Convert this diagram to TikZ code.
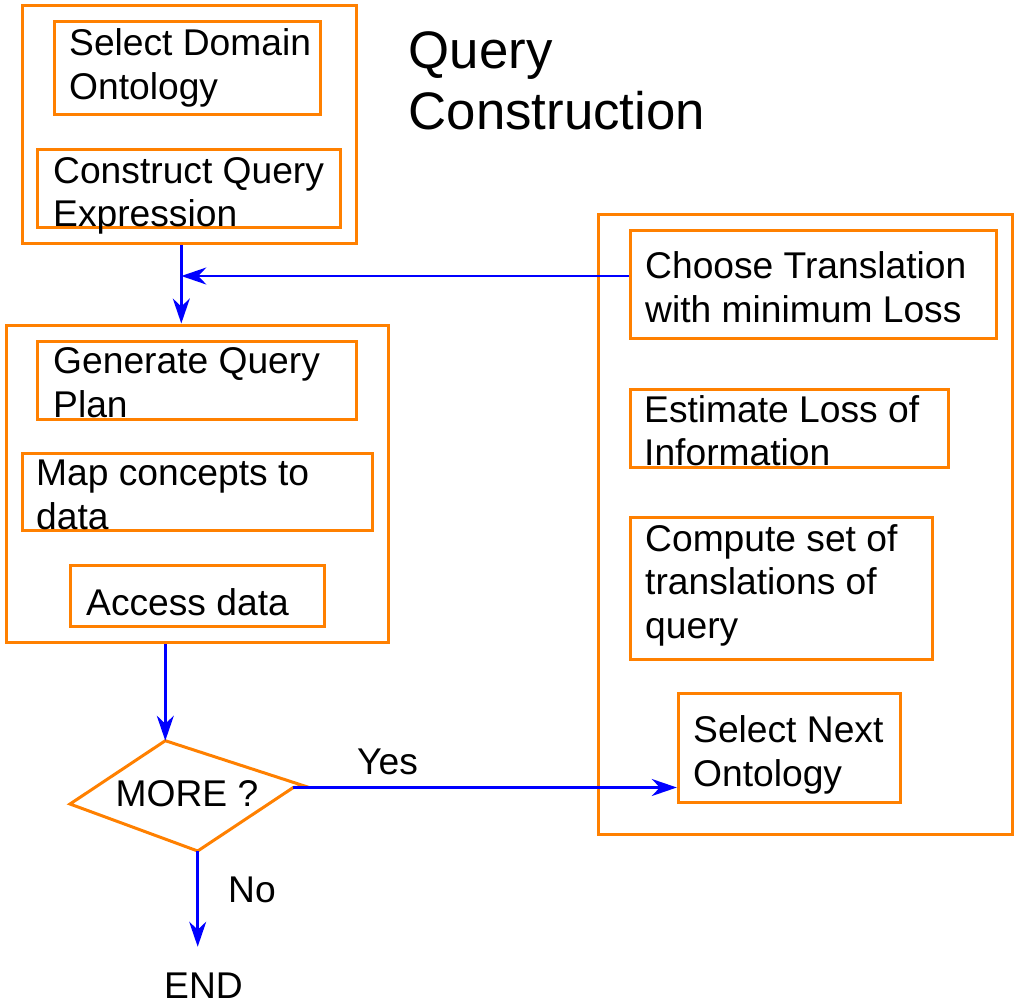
\documentclass[tikz,border=0pt]{standalone}
\usepackage{fontspec}
\setmainfont{Liberation Sans}
\usetikzlibrary{arrows.meta,fit}
\definecolor{boxorange}{RGB}{255,128,0}
\definecolor{flowblue}{RGB}{0,0,255}
\begin{document}
\begin{tikzpicture}[x=1pt,y=-1pt,
  box/.style={draw=boxorange, line width=3pt, inner sep=0pt, fit={#1}},
  txt/.style={anchor=base west, align=left, inner sep=0pt,
    font=\fontsize{37.2}{43.5}\selectfont},
  flow/.style={draw=flowblue, line width=2.5pt,
    -{Stealth[length=25pt,width=17pt,inset=8pt]}}]
\useasboundingbox (0,0) rectangle (1014,1004);

% query construction group
\node[box={(22,5) (356.7,243)}] (grpA) {};
\node[box={(54,21.7) (320,114)}] (sdo) {};
\node[box={(37.7,149.3) (340.7,227.3)}] (cqe) {};

% execution group
\node[box={(6,325) (388.3,642.7)}] (grpB) {};
\node[box={(37.7,341.7) (356.7,419)}] (gqp) {};
\node[box={(22,453.3) (372.3,530.7)}] (mcd) {};
\node[box={(70,565.7) (324,626.7)}] (acc) {};

% translation group
\node[box={(598.3,214) (1012,834)}] (grpC) {};
\node[box={(630,230) (996.7,338.7)}] (cho) {};
\node[box={(630,389.3) (948.3,467.3)}] (est) {};
\node[box={(630,517.7) (932.3,659)}] (cmp) {};
\node[box={(678.3,693.3) (900,802.7)}] (nxt) {};

% decision shape
\coordinate (dtop) at (165.3,740.7);
\coordinate (dr1) at (306.7,786.7);
\coordinate (dr2) at (293.3,787.5);
\coordinate (dbot) at (197.7,851);
\coordinate (dlft) at (70,804);
\draw[boxorange, line width=3pt] (dtop) -- (dr1) -- (dr2) -- (dbot) -- (dlft) -- cycle;

% labels (multi-line nodes are placed by the baseline of their last line)
\node[txt] (tsdo) at (69,99.3) {Select Domain\\Ontology};
\node[txt] (tcqe) at (53,226.7) {Construct Query\\Expression};
\node[txt] (tgqp) at (53,417.3) {Generate Query\\Plan};
\node[txt] (tmcd) at (36,529.3) {Map concepts to\\data};
\node[txt] (tacc) at (86,615) {Access data};
\node[txt] (tcho) at (645,322.3) {Choose Translation\\with minimum Loss};
\node[txt] (test) at (644,465.5) {Estimate Loss of\\Information};
\node[txt] (tcmp) at (645,638.3) {Compute set of\\translations of\\query};
\node[txt] (tnxt) at (693,786) {Select Next\\Ontology};
\node[anchor=base west, align=left, inner sep=0pt,
  font=\fontsize{52.8}{61}\selectfont] (title) at (408.5,129.3)
  {Query\\Construction};
\node[txt] (more) at (115.5,806) {MORE ?};
\node[txt] (yes) at (357,774.3) {Yes};
\node[txt] (no) at (228,902.7) {No};
\node[txt] (endlbl) at (164,998) {END};

% connectors
\coordinate (jn) at (181.3,276);
\coordinate (endtip) at (197.7,946.7);
\draw[flow] (jn |- grpA.south) -- (jn |- grpB.north);
\draw[flow] (cho.west |- jn) -- (jn);
\draw[flow] (grpB.south -| dtop) -- (dtop);
\draw[flow] (dr2) -- (nxt.west |- dr2);
\draw[flow] (dbot) -- (endtip);
\end{tikzpicture}
\end{document}
